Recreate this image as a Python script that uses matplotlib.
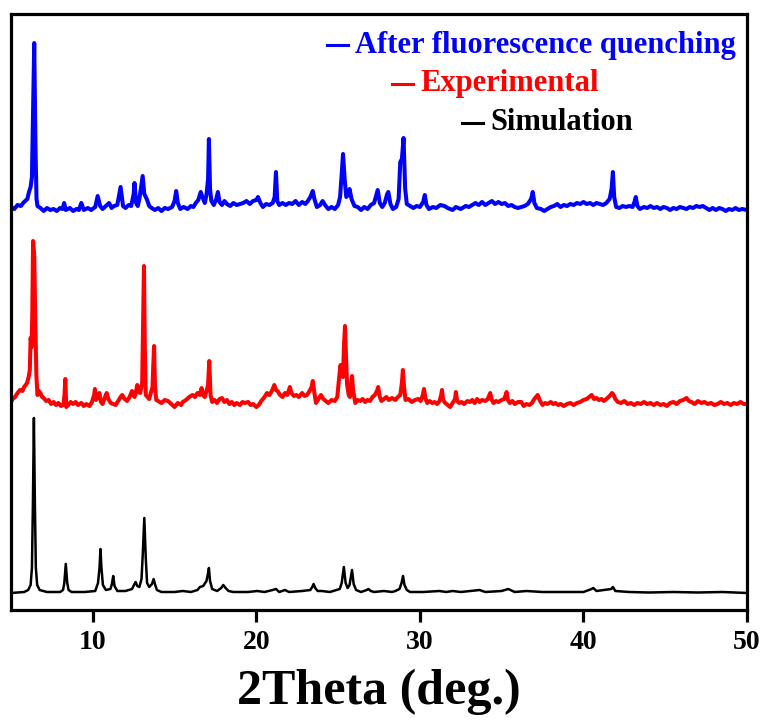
import matplotlib
matplotlib.use("Agg")
import matplotlib.pyplot as plt
from matplotlib.lines import Line2D

# ---------------- data ----------------
# (2Theta in deg, relative intensity in a.u.)
blue_pts = [
    (5.0, 2), (5.2, 0), (5.4, 4), (5.6, 3), (5.8, 7), (6.0, 10), (6.1, 17), (6.2, 22), (6.28, 32),
    (6.35, 100), (6.42, 166), (6.5, 60), (6.56, 10), (6.62, 3), (6.8, 1), (7.0, -2), (7.2, 1),
    (7.4, -1), (7.6, 0), (7.8, -2), (8.0, 1), (8.15, 0), (8.25, 6), (8.35, -1), (8.6, 1), (8.8, -2),
    (9.0, 0), (9.15, -1), (9.3, 6), (9.45, -1), (9.7, 1), (9.9, -1), (10.15, 2), (10.3, 13),
    (10.45, 3), (10.6, 0), (10.8, 3), (11.0, 6), (11.15, 1), (11.3, 3), (11.5, 4), (11.7, 22),
    (11.85, 3), (12.0, 1), (12.2, 4), (12.35, 3), (12.5, 15), (12.55, 26), (12.65, 6), (12.75, 3),
    (12.85, 10), (12.92, 18), (13.05, 33), (13.15, 15), (13.3, 10), (13.45, 3), (13.6, 1),
    (13.8, -1), (14.0, 1), (14.2, -2), (14.4, 1), (14.6, 0), (14.85, 2), (15.0, 8), (15.1, 18),
    (15.2, 6), (15.35, 0), (15.55, 2), (15.8, 0), (16.0, 3), (16.15, 2), (16.3, 6), (16.45, 9),
    (16.6, 17), (16.75, 10), (16.85, 6), (16.95, 14), (17.05, 30), (17.1, 70), (17.17, 20),
    (17.25, 8), (17.4, 4), (17.55, 10), (17.65, 17), (17.75, 7), (17.9, 4), (18.05, 8), (18.2, 5),
    (18.4, 3), (18.6, 6), (18.8, 4), (19.0, 5), (19.2, 6), (19.4, 8), (19.6, 5), (19.8, 8),
    (20.0, 9), (20.1, 12), (20.25, 6), (20.4, 2), (20.6, 5), (20.8, 4), (21.0, 6), (21.12, 12),
    (21.2, 37), (21.28, 8), (21.4, 4), (21.6, 6), (21.8, 4), (22.0, 6), (22.2, 5), (22.4, 8),
    (22.6, 4), (22.8, 7), (23.0, 5), (23.15, 8), (23.3, 12), (23.45, 18), (23.55, 10), (23.7, 2),
    (23.9, 4), (24.05, 8), (24.2, 4), (24.4, 0), (24.6, 2), (24.8, 0), (25.0, 4), (25.12, 12),
    (25.22, 35), (25.3, 55), (25.4, 30), (25.5, 12), (25.6, 14), (25.7, 20), (25.82, 10),
    (26.0, 3), (26.2, 2), (26.4, -1), (26.6, 2), (26.8, 0), (27.0, 4), (27.2, 6), (27.35, 15),
    (27.42, 19), (27.55, 6), (27.7, 2), (27.85, 6), (28.0, 15), (28.07, 17), (28.2, 5), (28.35, 0),
    (28.55, 2), (28.7, 10), (28.8, 47), (28.9, 50), (29.0, 71), (29.1, 20), (29.2, 5), (29.4, 3),
    (29.6, 1), (29.8, 3), (30.0, 2), (30.2, 7), (30.3, 14), (30.4, 4), (30.55, 0), (30.8, 2),
    (31.0, 1), (31.25, 4), (31.5, 3), (31.7, 1), (32.0, -1), (32.2, 2), (32.5, 0), (32.8, 3),
    (33.0, 2), (33.2, 4), (33.4, 6), (33.6, 4), (33.8, 7), (34.0, 4), (34.2, 6), (34.4, 8),
    (34.6, 5), (34.8, 7), (35.0, 5), (35.2, 6), (35.4, 3), (35.6, 4), (35.8, 2), (36.0, 1),
    (36.2, 2), (36.4, 3), (36.6, 5), (36.8, 10), (36.9, 17), (37.0, 6), (37.15, 1), (37.4, 0),
    (37.6, -2), (37.8, 0), (38.0, 2), (38.2, 3), (38.4, 5), (38.6, 2), (38.8, 4), (39.0, 3),
    (39.2, 5), (39.4, 4), (39.6, 6), (39.8, 5), (40.0, 7), (40.2, 5), (40.4, 6), (40.6, 4),
    (40.8, 6), (41.0, 5), (41.2, 4), (41.4, 6), (41.6, 10), (41.72, 20), (41.8, 37), (41.88, 12),
    (42.0, 2), (42.2, 1), (42.4, 3), (42.6, 2), (42.8, 3), (43.0, 2), (43.12, 7), (43.2, 12),
    (43.3, 3), (43.45, 0), (43.7, 2), (43.9, 1), (44.1, 3), (44.3, 1), (44.5, 2), (44.7, 0),
    (44.9, 2), (45.1, 1), (45.3, -1), (45.5, 1), (45.7, 0), (45.9, 2), (46.1, 1), (46.3, 0),
    (46.5, 2), (46.7, 1), (46.9, 3), (47.1, 2), (47.3, 3), (47.5, 1), (47.7, -1), (47.9, 1),
    (48.1, -1), (48.3, 1), (48.5, 0), (48.7, -2), (48.9, 0), (49.1, -1), (49.3, 1), (49.5, -1),
    (49.7, 0), (50.0, -1)]

red_pts = [
    (5.0, 3), (5.1, 6), (5.25, 8), (5.4, 12), (5.55, 15), (5.7, 14), (5.8, 18), (5.9, 20),
    (5.98, 22), (6.08, 28), (6.15, 35), (6.2, 67), (6.26, 58), (6.3, 90), (6.35, 164), (6.42, 150),
    (6.48, 90), (6.55, 30), (6.62, 10), (6.7, 14), (6.8, 12), (6.9, 8), (7.0, 7), (7.15, 4),
    (7.3, 5), (7.45, 1), (7.6, 3), (7.75, 0), (7.9, 2), (8.05, -1), (8.2, 0), (8.27, 10),
    (8.32, 26), (8.38, -2), (8.5, 0), (8.65, 3), (8.8, 1), (8.95, 3), (9.1, 0), (9.3, 2),
    (9.45, -1), (9.6, 1), (9.8, -1), (9.95, 3), (10.08, 10), (10.13, 16), (10.2, 5), (10.3, 8),
    (10.4, 12), (10.5, 3), (10.6, 1), (10.75, 8), (10.85, 12), (10.95, 6), (11.1, 2), (11.25, 1),
    (11.4, 0), (11.55, 4), (11.7, 8), (11.8, 10), (11.95, 6), (12.1, 4), (12.25, 8), (12.4, 14),
    (12.55, 8), (12.65, 14), (12.72, 20), (12.8, 13), (12.9, 12), (13.02, 22), (13.08, 90),
    (13.13, 139), (13.18, 60), (13.24, 10), (13.35, 8), (13.45, 6), (13.55, 12), (13.65, 18),
    (13.7, 40), (13.75, 59), (13.8, 20), (13.88, 5), (14.0, 4), (14.2, 2), (14.4, 5), (14.6, 4),
    (14.8, 1), (15.0, -2), (15.2, 2), (15.4, 0), (15.5, 3), (15.7, 5), (15.9, 8), (16.1, 10),
    (16.25, 8), (16.4, 12), (16.55, 10), (16.65, 17), (16.75, 10), (16.85, 8), (16.95, 14),
    (17.05, 20), (17.12, 44), (17.2, 10), (17.3, 3), (17.45, 5), (17.6, 2), (17.75, 6), (17.9, 7),
    (18.05, 3), (18.2, 5), (18.35, 1), (18.5, 3), (18.65, 0), (18.8, 2), (19.0, 0), (19.15, 3),
    (19.3, 2), (19.5, 3), (19.65, 0), (19.8, 1), (20.0, -2), (20.15, 0), (20.3, 4), (20.5, 8),
    (20.65, 12), (20.8, 10), (20.95, 14), (21.1, 20), (21.2, 15), (21.3, 14), (21.45, 10),
    (21.6, 8), (21.75, 12), (21.9, 10), (22.05, 18), (22.15, 12), (22.3, 9), (22.45, 10),
    (22.6, 8), (22.8, 12), (22.95, 9), (23.1, 10), (23.25, 14), (23.38, 18), (23.45, 24),
    (23.55, 12), (23.65, 2), (23.8, 6), (23.95, 10), (24.1, 6), (24.25, 4), (24.4, 2), (24.6, 5),
    (24.8, 4), (24.95, 8), (25.08, 30), (25.15, 40), (25.22, 30), (25.3, 28), (25.36, 60),
    (25.42, 79), (25.48, 50), (25.55, 20), (25.65, 10), (25.72, 8), (25.8, 22), (25.85, 29),
    (25.92, 14), (26.05, 2), (26.2, 5), (26.35, 4), (26.5, 6), (26.65, 3), (26.8, 5), (26.95, 4),
    (27.1, 8), (27.25, 10), (27.4, 15), (27.45, 18), (27.55, 8), (27.65, 4), (27.8, 6), (27.95, 8),
    (28.1, 5), (28.3, 7), (28.5, 5), (28.65, 8), (28.8, 10), (28.9, 22), (28.96, 35), (29.03, 18),
    (29.12, 5), (29.3, 6), (29.5, 3), (29.7, 5), (29.9, 6), (30.05, 4), (30.18, 10), (30.25, 16),
    (30.35, 6), (30.45, 2), (30.6, 4), (30.75, 2), (30.9, 3), (31.05, 1), (31.2, 4), (31.3, 10),
    (31.35, 15), (31.42, 5), (31.55, 2), (31.7, 0), (31.85, -2), (32.0, 2), (32.15, 6), (32.2, 13),
    (32.28, 4), (32.4, 2), (32.55, 3), (32.7, 1), (32.9, 4), (33.05, 3), (33.2, 5), (33.35, 2),
    (33.5, 6), (33.65, 3), (33.8, 5), (34.0, 4), (34.15, 6), (34.3, 12), (34.4, 5), (34.5, 2),
    (34.65, 4), (34.8, 3), (35.0, 5), (35.15, 6), (35.25, 10), (35.3, 13), (35.38, 5), (35.5, 2),
    (35.65, 4), (35.8, 1), (36.0, 3), (36.2, 3), (36.35, -1), (36.5, 1), (36.7, 0), (36.85, 2),
    (37.0, 6), (37.2, 10), (37.35, 4), (37.5, 0), (37.65, 2), (37.8, 1), (38.0, 3), (38.15, 1),
    (38.3, 2), (38.45, 0), (38.6, 1), (38.8, -1), (39.0, 1), (39.2, 2), (39.4, 0), (39.6, 2),
    (39.8, 3), (40.0, 5), (40.2, 6), (40.35, 8), (40.5, 10), (40.65, 6), (40.8, 7), (40.95, 5),
    (41.1, 6), (41.25, 4), (41.4, 6), (41.6, 9), (41.75, 12), (41.85, 10), (41.95, 6), (42.1, 3),
    (42.3, 2), (42.5, 4), (42.7, 1), (42.9, 2), (43.1, 0), (43.3, 2), (43.5, 1), (43.7, 3),
    (43.9, 1), (44.1, 2), (44.3, 0), (44.5, 2), (44.7, 0), (44.9, 1), (45.1, -1), (45.3, 2),
    (45.5, 3), (45.7, 1), (45.9, 4), (46.1, 5), (46.3, 7), (46.45, 4), (46.6, 3), (46.8, 1),
    (47.0, 4), (47.2, 2), (47.4, 3), (47.6, 1), (47.8, 2), (48.0, 0), (48.2, 1), (48.4, 3),
    (48.6, 1), (48.8, 2), (49.0, 0), (49.2, 2), (49.4, 1), (49.6, 3), (49.8, 1), (50.0, 1)]

black_pts = [
    (5.0, 0), (5.8, 1), (6.05, 3), (6.2, 8), (6.28, 25), (6.34, 90), (6.4, 175), (6.46, 90),
    (6.52, 25), (6.6, 8), (6.75, 3), (7.2, 1), (8.0, 1), (8.18, 3), (8.26, 10), (8.35, 29),
    (8.44, 10), (8.52, 3), (8.7, 1), (9.5, 1), (10.15, 2), (10.32, 10), (10.41, 25), (10.47, 44),
    (10.53, 25), (10.62, 8), (10.8, 3), (11.08, 4), (11.17, 9), (11.25, 17), (11.33, 7), (11.5, 2),
    (12.0, 2), (12.4, 4), (12.55, 9), (12.62, 11), (12.72, 7), (12.85, 6), (12.98, 14),
    (13.06, 40), (13.15, 75), (13.24, 35), (13.32, 10), (13.45, 6), (13.62, 9), (13.72, 14),
    (13.8, 9), (13.92, 3), (14.2, 1), (15.0, 1), (15.5, 2), (16.0, 1), (16.4, 3), (16.55, 6),
    (16.75, 7), (16.95, 12), (17.05, 20), (17.1, 25), (17.17, 12), (17.3, 4), (17.6, 2),
    (17.85, 5), (17.98, 8), (18.12, 5), (18.3, 2), (18.6, 1), (19.5, 1), (20.05, 2), (20.5, 1),
    (21.0, 3), (21.2, 4), (21.4, 1), (21.75, 3), (22.0, 1), (22.8, 2), (23.3, 3), (23.42, 6),
    (23.5, 9), (23.6, 5), (23.75, 2), (24.0, 2), (24.5, 1), (25.1, 4), (25.22, 10), (25.35, 26),
    (25.46, 10), (25.58, 5), (25.7, 8), (25.85, 23), (25.95, 9), (26.1, 3), (26.4, 1), (26.75, 3),
    (26.85, 4), (27.0, 2), (27.2, 1), (27.8, 2), (28.3, 1), (28.5, 2), (28.75, 4), (28.88, 10),
    (28.97, 17), (29.06, 8), (29.2, 3), (29.4, 1), (30.2, 1), (31.2, 2), (31.6, 1), (32.0, 2),
    (32.5, 1), (33.65, 3), (34.0, 1), (35.0, 2), (35.4, 4), (35.8, 1), (36.5, 2), (37.5, 1),
    (38.5, 1), (40.0, 1), (40.5, 4), (40.6, 5), (40.8, 2), (41.7, 4), (41.8, 6), (41.95, 2),
    (42.8, 1), (44.0, 0.5), (45.5, 1), (47.0, 0.5), (48.5, 1), (50.0, 0)]

blue_x = [p[0] for p in blue_pts]
blue_y = [p[1] for p in blue_pts]
red_x = [p[0] for p in red_pts]
red_y = [p[1] for p in red_pts]
black_x = [p[0] for p in black_pts]
black_y = [p[1] for p in black_pts]

series_names = ["After fluorescence quenching", "Experimental", "Simulation"]
series_colors = ["#0000ff", "#ff0000", "#000000"]
series_offsets = [401, 205, 17]   # vertical stacking offsets
x_ticks = [10, 20, 30, 40, 50]

# ---------------- figure ----------------
W, H = 767, 722
fig = plt.figure(figsize=(W / 100, H / 100), dpi=100)
L, R, T, B = 11, 747, 14, 610
ax = fig.add_axes([L / W, 1 - B / H, (R - L) / W, (B - T) / H])

font = ["Liberation Serif", "DejaVu Serif"]

xs = [blue_x, red_x, black_x]
ys = [blue_y, red_y, black_y]
lws = [2.9, 2.9, 1.8]
for x, y, c, off, lw in zip(xs, ys, series_colors, series_offsets, lws):
    ax.plot(x, [v + off for v in y], color=c, lw=lw, solid_joinstyle="round")

ax.set_xlim(5, 50)
ax.set_ylim(0, B - T)
ax.set_xticks(x_ticks)
ax.set_yticks([])
for s in ax.spines.values():
    s.set_linewidth(2.3)
ax.tick_params(axis="x", direction="out", length=8.5, width=2.3, pad=6,
               labelsize=20)
for lab in ax.get_xticklabels():
    lab.set_fontfamily(font)
    lab.set_fontweight("bold")
ax.set_xlabel("2Theta (deg.)", fontsize=36, fontweight="bold", family=font, labelpad=10)

# legend-like labels
legend_rows = [(327, 45, 355), (392, 84, 420), (462, 123, 490)]
for (lx, ly, tx), name, c in zip(legend_rows, series_names, series_colors):
    fig.add_artist(Line2D([lx / W, (lx + 21) / W], [1 - ly / H, 1 - ly / H],
                          color=c, lw=2.2, transform=fig.transFigure))
    fig.text(tx / W, 1 - ly / H, name, color=c, fontsize=22, fontweight="bold",
             family=font, ha="left", va="center")

fig.savefig("out.png", dpi=100)
